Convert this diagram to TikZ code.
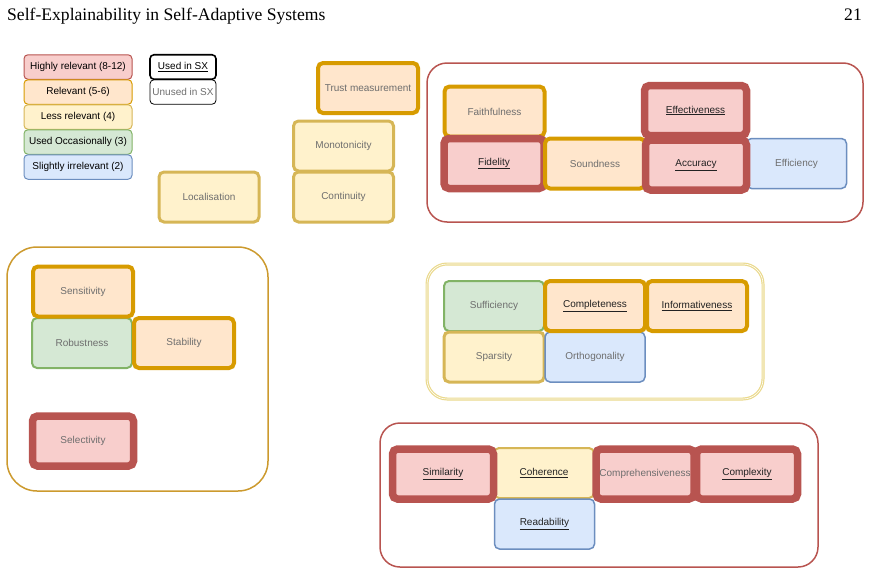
\documentclass[tikz,border=0pt]{standalone}
\usepackage{fontspec}
\setmainfont{Liberation Serif}
\newfontfamily\boxfont{Liberation Sans}
\definecolor{redF}{HTML}{F8CECC}\definecolor{redS}{HTML}{B85450}
\definecolor{oraF}{HTML}{FFE6CC}\definecolor{oraS}{HTML}{D79B00}
\definecolor{yelF}{HTML}{FFF2CC}\definecolor{yelS}{HTML}{D6B656}
\definecolor{greF}{HTML}{D5E8D4}\definecolor{greS}{HTML}{82B366}
\definecolor{bluF}{HTML}{DAE8FC}\definecolor{bluS}{HTML}{6C8EBF}
\definecolor{txtG}{HTML}{6E6E6E}\definecolor{txtD}{HTML}{222222}
\definecolor{contY}{HTML}{CC9A2E}\definecolor{contL}{HTML}{EAD98C}
\tikzset{
  box/.style={rectangle, rounded corners=5pt, minimum width=100pt, minimum height=50pt, inner sep=0pt,
    font=\boxfont\fontsize{10}{12}\selectfont, text=txtG},
  used/.style={text=txtD},
  redbox/.style={box, fill=redF, draw=redS, line width=7.5pt},
  orabox/.style={box, fill=oraF, draw=oraS, line width=4pt},
  yelbox/.style={box, fill=yelF, draw=yelS, line width=3pt},
  yelthin/.style={box, fill=yelF, draw=yelS, line width=2pt},
  grebox/.style={box, fill=greF, draw=greS, line width=2pt},
  blubox/.style={box, fill=bluF, draw=bluS, line width=1.5pt},
  leg/.style={rectangle, rounded corners=4pt, minimum width=108pt, minimum height=24.5pt, inner sep=0pt,
    font=\boxfont\fontsize{10}{12}\selectfont, text=black, line width=1pt},
  sx/.style={rectangle, rounded corners=4pt, minimum width=66pt, minimum height=24.5pt, inner sep=0pt,
    font=\boxfont\fontsize{10}{12}\selectfont, draw=black},
  cont/.style={rounded corners=20pt, line width=1.5pt},
  head/.style={inner sep=0pt, font=\fontsize{17.6}{20}\selectfont},
}
\newcommand{\ul}[1]{\underline{#1}}
\begin{document}
\begin{tikzpicture}[x=1pt,y=-1pt]
\useasboundingbox (0,0) rectangle (870,573);
% header
\node[head, anchor=base west] (title) at (7,20) {Self-Explainability in Self-Adaptive Systems};
\node[head, anchor=base east] (page) at (862,20) {21};

% legend
\node[leg, fill=redF, draw=redS] (l1) at (78,67) {Highly relevant (8-12)};
\node[leg, fill=oraF, draw=oraS] (l2) at (78,92) {Relevant (5-6)};
\node[leg, fill=yelF, draw=yelS] (l3) at (78,117) {Less relevant (4)};
\node[leg, fill=greF, draw=greS] (l4) at (78,142) {Used Occasionally (3)};
\node[leg, fill=bluF, draw=bluS] (l5) at (78,167) {Slightly irrelevant (2)};
\node[sx, line width=1.6pt, text=black] (usx) at (183,67) {\ul{Used in SX}};
\node[sx, line width=0.8pt, text=txtG] (nsx) at (183,92) {Unused in SX};

% loose boxes
\node[orabox] (trust) at (368,88) {Trust measurement};
\node[yelbox] (mono) at (343.5,146) {Monotonicity};
\node[yelbox] (cont) at (343.5,197) {Continuity};
\node[yelbox] (loc) at (209,197) {Localisation};

% top right container
\draw[cont, draw=redS] (427,63) rectangle (863,222);
\node[orabox] (faith) at (494.5,111.5) {Faithfulness};
\node[redbox, used] (fid) at (494,163.5) {\ul{Fidelity}};
\node[orabox] (sound) at (595,163.5) {Soundness};
\node[blubox] (eff) at (796.5,163.5) {Efficiency};
\node[redbox, used, minimum width=102pt] (effect) at (695.5,110.5) {\ul{Effectiveness}};
\node[redbox, used, minimum width=101pt] (acc) at (696,165) {\ul{Accuracy}};

% left container
\draw[cont, draw=contY, rounded corners=30pt] (7,247) rectangle (268,491);
\node[grebox] (rob) at (82,343) {Robustness};
\node[orabox] (sens) at (83,291.5) {Sensitivity};
\node[orabox] (stab) at (184,343) {Stability};
\node[redbox, minimum width=101pt] (sel) at (83,441) {Selectivity};

% middle right container
\draw[cont, draw=contL, line width=1.2pt, double=white, double distance=0.6pt] (427,264) rectangle (763,399);
\node[grebox] (suff) at (494,306) {Sufficiency};
\node[yelbox] (spar) at (494,357) {Sparsity};
\node[blubox] (orth) at (595,357) {Orthogonality};
\node[orabox, used] (compl) at (595,306) {\ul{Completeness}};
\node[orabox, used] (inf) at (697,306) {\ul{Informativeness}};

% bottom container
\draw[cont, draw=redS] (380,423) rectangle (818,567);
\node[yelthin, used] (coh) at (544,473) {\ul{Coherence}};
\node[blubox, used] (read) at (544.5,524) {\ul{Readability}};
\node[redbox, used, minimum width=101pt] (sim) at (443,474) {\ul{Similarity}};
\node[redbox, minimum width=98pt] (comp) at (645,474) {Comprehensiveness};
\node[redbox, used, minimum width=101pt] (cplx) at (747,474) {\ul{Complexity}};
\end{tikzpicture}
\end{document}
